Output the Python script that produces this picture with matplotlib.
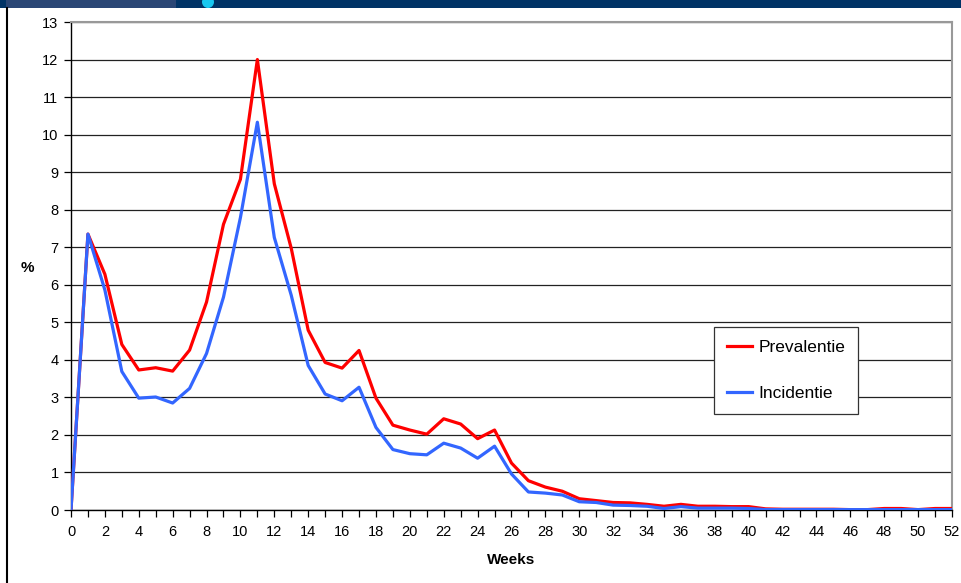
import matplotlib
matplotlib.use("Agg")
import matplotlib.pyplot as plt
from matplotlib.patches import Rectangle, Ellipse
from matplotlib.lines import Line2D

plt.rcParams['font.family'] = ['Liberation Sans', 'DejaVu Sans']

weeks = list(range(0, 53))
prevalentie = [0, 7.35, 6.28, 4.41, 3.73, 3.79, 3.70, 4.26, 5.54, 7.61,
               8.81, 12.0, 8.69, 6.97, 4.79, 3.93, 3.78, 4.25, 2.98, 2.26,
               2.13, 2.02, 2.43, 2.29, 1.90, 2.13, 1.25, 0.78, 0.61, 0.50,
               0.30, 0.25, 0.20, 0.19, 0.15, 0.10, 0.15, 0.10, 0.10, 0.09,
               0.09, 0.03, 0.02, 0.02, 0.02, 0.02, 0.01, 0.01, 0.04, 0.04,
               0.01, 0.04, 0.04]
incidentie = [0, 7.35, 5.86, 3.69, 2.98, 3.01, 2.85, 3.24, 4.17, 5.67,
              7.79, 10.33, 7.26, 5.72, 3.85, 3.09, 2.91, 3.27, 2.20, 1.61,
              1.50, 1.47, 1.78, 1.65, 1.38, 1.70, 0.96, 0.48, 0.45, 0.40,
              0.22, 0.20, 0.13, 0.12, 0.10, 0.04, 0.09, 0.05, 0.05, 0.05,
              0.04, 0.01, 0.01, 0.01, 0.01, 0.01, 0.01, 0.01, 0.01, 0.01,
              0.01, 0.01, 0.01]
x_tick_labels = list(range(0, 53, 2))
y_ticks = list(range(0, 14))

W, H = 962, 583
fig = plt.figure(figsize=(W / 100, H / 100), dpi=100)
fig.patch.set_facecolor('white')

# top banner
fig.patches.append(Rectangle((0, 1 - 8 / H), 1, 8 / H, transform=fig.transFigure,
                             facecolor='#003366', edgecolor='none', zorder=0))
fig.patches.append(Rectangle((6 / W, 1 - 8 / H), 170 / W, 8 / H, transform=fig.transFigure,
                             facecolor='#2a4675', edgecolor='none', zorder=1))
fig.patches.append(Ellipse((208 / W, 1 - 2 / H), 12 / W, 12 / H, transform=fig.transFigure,
                           facecolor='#18c8f0', edgecolor='none', zorder=2))
# left border
fig.add_artist(Line2D([7 / W, 7 / W], [0, 1 - 8 / H], transform=fig.transFigure,
                      color='black', lw=1.5))

ax = fig.add_axes([71 / W, (H - 510) / H, (952 - 71) / W, (510 - 22) / H])
ax.plot(weeks, prevalentie, color='#ff0000', lw=2.3, label='Prevalentie', zorder=3)
ax.plot(weeks, incidentie, color='#3366ff', lw=2.3, label='Incidentie', zorder=3)

ax.set_xlim(0, 52)
ax.set_ylim(0, 13)
ax.set_xticks(weeks, minor=True)
ax.set_xticks(x_tick_labels)
ax.set_xticklabels([str(v) for v in x_tick_labels])
ax.set_yticks(y_ticks)
ax.set_yticklabels([str(v) for v in y_ticks])
ax.tick_params(axis='both', which='both', direction='out', length=5, width=0.9,
               labelsize=10.5, colors='black')
ax.tick_params(axis='x', which='major', pad=6)
ax.tick_params(axis='y', pad=4)
ax.grid(axis='y', color='#222222', lw=0.9)
ax.set_axisbelow(True)

for s in ['top', 'right']:
    ax.spines[s].set_color('#999999')
    ax.spines[s].set_linewidth(1.5)
for s in ['left', 'bottom']:
    ax.spines[s].set_color('black')
    ax.spines[s].set_linewidth(1.0)

ax.set_xlabel('Weeks', fontsize=11, fontweight='bold', labelpad=10)
fig.text(27 / W, 1 - 268 / H, '%', fontsize=11, fontweight='bold', ha='center', va='center')

leg = ax.legend(loc='upper left',
                bbox_to_anchor=((714 - 71) / (952 - 71), 1 - (327 - 22) / (510 - 22)),
                borderaxespad=0,
                fontsize=12.5, frameon=True, fancybox=False, edgecolor='#333333',
                handlelength=1.45, handletextpad=0.35, labelspacing=1.75,
                borderpad=0.75, framealpha=1)
leg.get_frame().set_linewidth(0.9)

fig.savefig('out.png', dpi=100, facecolor='white')
